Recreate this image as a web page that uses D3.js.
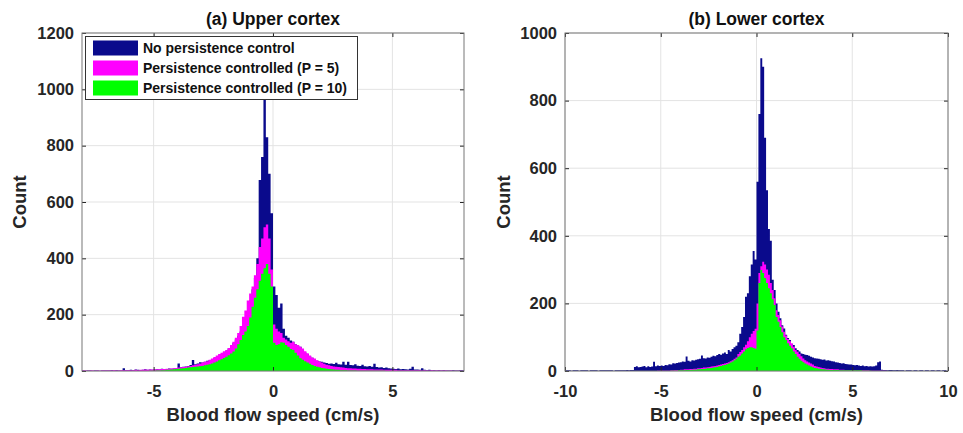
<!DOCTYPE html>
<meta charset="utf-8">
<style>
  body { margin: 0; background: #fff; }
  text { font-family: "Liberation Sans", Arial, sans-serif; font-weight: bold; }
</style>
<script src="https://d3js.org/d3.v7.min.js"></script>
<svg id="chart" width="963" height="433"></svg>
<script>
// histogram counts, bins of 0.1 cm/s
const binWidth = 0.1;
const seriesNames = ["No persistence control", "Persistence controlled (P = 5)", "Persistence controlled (P = 10)"];
const seriesColours = ["#0a0a8c", "#ff00ff", "#00ff00"];

// (a) upper cortex, first bin starts at -8
const upperStart = -8;
const upperNoCtrl = [
  2,1,2,2,1,2,2,1,2,2,
  2,2,3,2,3,2,2,10,3,3,
  4,3,5,4,3,4,6,4,5,4,
  5,6,5,8,6,7,9,8,9,10,
  27,13,15,16,18,21,39,24,27,31,
  30,33,36,38,42,46,50,55,60,66,
  72,80,90,100,112,125,140,160,185,200,
  250,290,330,400,678,760,970,830,700,560,
  300,270,225,240,150,125,118,108,104,95,
  88,86,75,66,60,52,47,42,36,34,
  33,30,28,26,27,25,29,24,23,33,
  22,33,21,20,24,19,18,22,17,16,
  18,15,26,14,12,13,11,12,10,9,
  8,7,9,6,7,6,5,8,15,5,
  5,4,10,4,3,4,3,3,2,3,
  2,3,2,2,2,3,2,2,3,3
];
const upperP5 = [
  2,2,1,2,2,1,2,1,2,2,
  2,2,2,3,2,2,3,3,3,3,
  3,3,4,3,4,4,5,4,5,5,
  5,6,6,7,7,8,8,9,10,11,
  12,13,14,15,17,18,20,22,24,27,
  30,33,35,40,44,50,55,60,65,70,
  75,82,92,104,118,135,160,193,215,250,
  275,300,340,380,440,470,510,520,470,360,
  165,150,140,135,118,112,106,100,104,95,
  92,86,80,70,63,55,48,44,38,34,
  30,26,22,20,18,16,15,14,13,12,
  11,10,10,9,9,8,8,7,7,6,
  6,6,5,5,5,5,4,4,4,4,
  4,4,3,3,3,3,3,3,3,3,
  3,3,2,3,2,2,3,2,2,2,
  2,2,2,1,2,1,1,1,1,1
];
const upperP10 = [
  0,0,0,0,0,0,0,0,0,0,
  0,0,0,0,0,0,0,0,0,0,
  0,0,0,0,0,0,0,0,1,1,
  1,2,2,3,3,4,4,5,6,7,
  8,9,10,11,12,13,14,15,16,17,
  18,20,22,24,27,30,34,38,42,46,
  51,56,62,69,80,95,110,128,140,160,
  190,228,260,290,320,345,365,380,345,300,
  100,92,95,102,100,92,86,78,75,65,
  55,45,40,35,30,26,21,18,15,13,
  11,10,8,7,6,5,4,4,3,3,
  3,2,2,2,2,1,1,1,1,1,
  1,1,1,1,1,1,1,0,0,0,
  0,0,0,0,0,0,0,0,0,0,
  0,0,0,0,0,0,0,0,0,0,
  0,0,0,0,0,0,0,0,0,0
];

// (b) lower cortex, first bin starts at -10
const lowerStart = -10;
const lowerNoCtrl = [
  2,2,2,1,2,2,2,1,2,2,
  2,2,1,2,2,2,2,1,2,2,
  2,2,2,2,2,1,2,2,2,2,
  2,2,3,2,3,3,12,14,11,12,
  13,15,11,14,12,13,27,14,16,15,
  16,15,18,17,20,19,23,22,24,25,
  26,28,27,43,30,28,32,31,33,35,
  36,46,38,37,40,39,42,45,44,47,
  50,48,52,55,50,62,58,65,70,75,
  85,110,130,160,220,230,280,315,355,330,
  560,760,925,900,690,535,420,385,270,240,
  200,175,156,135,126,107,98,92,80,77,
  67,62,58,52,50,48,47,45,42,40,
  38,37,36,35,33,34,31,32,30,29,
  28,26,25,24,22,23,21,20,19,19,
  18,17,18,16,15,16,14,15,13,14,
  13,14,16,26,28,4,3,3,2,3,
  3,2,2,3,2,2,2,1,2,2,
  2,1,2,2,1,2,2,1,2,2,
  1,2,2,1,2,2,1,2,2,1
];
const lowerP5 = [
  0,0,0,0,0,0,0,0,0,0,
  0,0,0,0,0,0,0,0,0,0,
  0,0,0,0,0,0,0,0,0,0,
  0,0,0,0,0,0,0,0,0,0,
  0,0,0,0,0,0,0,0,1,1,
  1,1,1,1,1,2,2,3,3,3,
  4,4,5,5,5,6,6,7,7,8,
  8,9,10,10,11,12,13,14,15,16,
  18,19,21,22,24,26,29,32,36,40,
  50,56,62,70,78,88,100,110,118,125,
  200,290,310,323,315,300,285,260,240,215,
  180,166,150,132,116,105,95,88,82,72,
  62,57,50,44,37,32,28,25,22,19,
  15,13,12,10,9,8,7,7,6,6,
  5,5,5,4,4,4,3,3,3,3,
  3,3,2,2,2,2,2,2,2,1,
  1,1,1,1,1,1,1,1,0,0,
  0,0,0,0,0,0,0,0,0,0,
  0,0,0,0,0,0,0,0,0,0,
  0,0,0,0,0,0,0,0,0,0
];
const lowerP10 = [
  0,0,0,0,0,0,0,0,0,0,
  0,0,0,0,0,0,0,0,0,0,
  0,0,0,0,0,0,0,0,0,0,
  0,0,0,0,0,0,0,0,0,0,
  0,0,0,0,0,0,0,0,0,0,
  0,0,0,0,0,1,1,1,1,2,
  2,2,2,3,3,3,4,4,4,5,
  5,6,6,7,8,8,9,10,11,12,
  14,15,17,18,20,22,25,28,32,36,
  42,46,52,58,64,68,70,70,68,66,
  120,260,299,290,275,260,245,230,212,195,
  160,146,130,115,100,92,82,75,67,58,
  50,42,36,30,26,22,19,16,13,11,
  9,8,7,6,5,5,4,4,3,3,
  3,3,3,2,2,2,2,2,2,2,
  2,2,2,2,2,1,1,1,1,1,
  0,0,0,0,0,0,0,0,0,0,
  0,0,0,0,0,0,0,0,0,0,
  0,0,0,0,0,0,0,0,0,0,
  0,0,0,0,0,0,0,0,0,0
];

const upperXTicks = [-5, 0, 5];
const upperYTicks = [0, 200, 400, 600, 800, 1000, 1200];
const lowerXTicks = [-10, -5, 0, 5, 10];
const lowerYTicks = [0, 200, 400, 600, 800, 1000];

const svg = d3.select("#chart");
const axisCol = "#262626";
const plotTop = 33, plotBottom = 371;
const plainNum = d => String(d);  // hyphen minus, no thousands comma

// step outline of one histogram
function toPoints(start, counts) {
  var pts = counts.map((c, i) => ({ x: start + i * binWidth, c: c }));
  pts.push({ x: start + counts.length * binWidth, c: counts[counts.length - 1] });
  return pts;
}

function drawPanel(p) {
  var x = d3.scaleLinear().domain(p.xDomain).range([p.left, p.right]);
  var y = d3.scaleLinear().domain([0, p.yMax]).range([plotBottom, plotTop]);
  var g = svg.append("g");

  // grid
  g.append("g").selectAll("line").data(p.xTicks).enter().append("line")
    .attr("x1", d => x(d)).attr("x2", d => x(d))
    .attr("y1", plotTop).attr("y2", plotBottom)
    .attr("stroke", "#e3e3e3").attr("stroke-width", 1);
  g.append("g").selectAll("line").data(p.yTicks).enter().append("line")
    .attr("x1", p.left).attr("x2", p.right)
    .attr("y1", d => y(d)).attr("y2", d => y(d))
    .attr("stroke", "#e3e3e3").attr("stroke-width", 1);

  // histograms
  var area = d3.area()
    .x(d => x(d.x)).y0(y(0)).y1(d => y(d.c))
    .curve(d3.curveStepAfter);
  p.series.forEach(function (s, k) {
    g.append("path")
      .datum(toPoints(p.start, s))
      .attr("d", area)
      .attr("fill", seriesColours[k]);
  });

  // axes, ticks inward on all sides
  var ax = d3.axisBottom(x).tickValues(p.xTicks).tickFormat(plainNum)
    .tickSizeInner(-4).tickSizeOuter(0).tickPadding(14);
  g.append("g").attr("transform", "translate(0," + plotBottom + ")").call(ax);
  var ay = d3.axisLeft(y).tickValues(p.yTicks).tickFormat(plainNum)
    .tickSizeInner(-4).tickSizeOuter(0).tickPadding(8);
  g.append("g").attr("transform", "translate(" + p.left + ",0)").call(ay);
  g.append("g").attr("transform", "translate(0," + plotTop + ")")
    .call(d3.axisTop(x).tickValues(p.xTicks).tickSizeInner(-4).tickSizeOuter(0).tickFormat(""));
  g.append("g").attr("transform", "translate(" + p.right + ",0)")
    .call(d3.axisRight(y).tickValues(p.yTicks).tickSizeInner(-4).tickSizeOuter(0).tickFormat(""));
  g.selectAll(".domain").remove();
  g.selectAll(".tick line").attr("stroke", axisCol);
  g.selectAll(".tick text").attr("fill", axisCol).style("font-size", "16.5px")
    .style("font-family", "'Liberation Sans', Arial, sans-serif").style("font-weight", "bold");

  g.append("rect")
    .attr("x", p.left).attr("y", plotTop)
    .attr("width", p.right - p.left).attr("height", plotBottom - plotTop)
    .attr("fill", "none").attr("stroke", "#777").attr("stroke-width", 1);

  // labels
  g.append("text").attr("x", (p.left + p.right) / 2).attr("y", 25)
    .attr("text-anchor", "middle").attr("fill", "#111").style("font-size", "17.5px")
    .text(p.title);
  g.append("text").attr("x", (p.left + p.right) / 2).attr("y", 421)
    .attr("text-anchor", "middle").attr("fill", axisCol).style("font-size", "18.5px")
    .text("Blood flow speed (cm/s)");
  g.append("text")
    .attr("transform", "translate(" + p.yLabelX + "," + (plotTop + plotBottom) / 2 + ") rotate(-90)")
    .attr("text-anchor", "middle").attr("fill", axisCol).style("font-size", "18.5px")
    .text("Count");
}

drawPanel({
  title: "(a) Upper cortex", left: 82, right: 464, xDomain: [-8, 8], yMax: 1200,
  xTicks: upperXTicks, yTicks: upperYTicks, yLabelX: 26,
  start: upperStart, series: [upperNoCtrl, upperP5, upperP10]
});
drawPanel({
  title: "(b) Lower cortex", left: 565, right: 948, xDomain: [-10, 10], yMax: 1000,
  xTicks: lowerXTicks, yTicks: lowerYTicks, yLabelX: 510,
  start: lowerStart, series: [lowerNoCtrl, lowerP5, lowerP10]
});

// legend
var leg = svg.append("g");
leg.append("rect").attr("x", 85.5).attr("y", 36.5).attr("width", 272).attr("height", 63)
  .attr("fill", "#fff").attr("stroke", "#333").attr("stroke-width", 1);
seriesNames.forEach(function (name, i) {
  var cy = 48 + i * 20;
  leg.append("rect").attr("x", 93).attr("y", cy - 7.5).attr("width", 45).attr("height", 15)
    .attr("fill", seriesColours[i]);
  leg.append("text").attr("x", 143).attr("y", cy + 5)
    .attr("fill", "#111").style("font-size", "14px").text(name);
});
</script>
